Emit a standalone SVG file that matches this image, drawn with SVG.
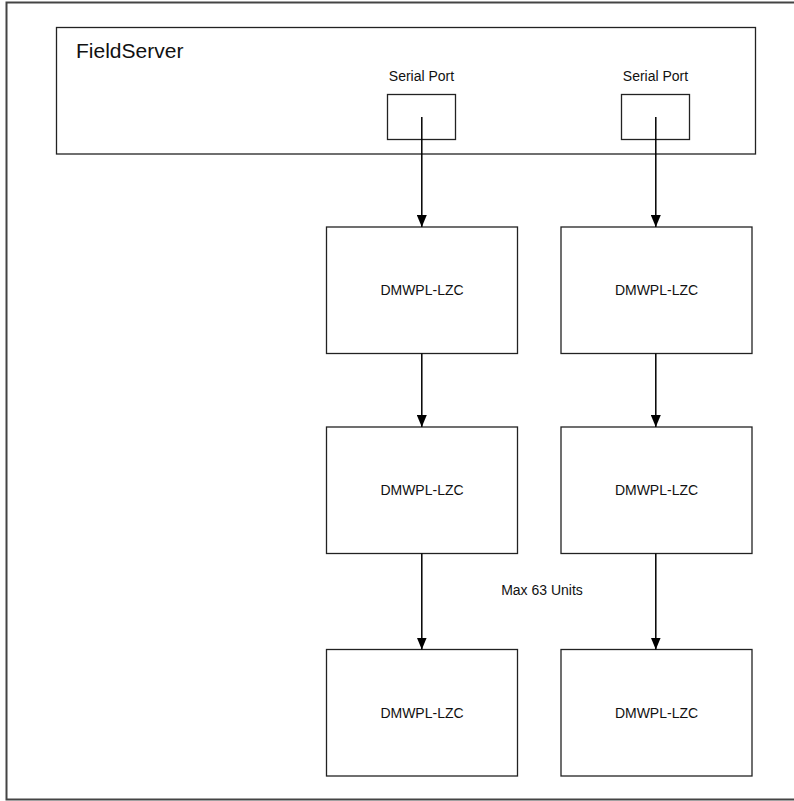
<svg xmlns="http://www.w3.org/2000/svg" width="794" height="801" viewBox="0 0 794 801">
<style>
.box{fill:#fff;stroke:#222;stroke-width:1.3}
.t{font-family:"Liberation Sans",Arial,sans-serif;font-size:14px;fill:#111;text-anchor:middle}
.c{stroke:#000;stroke-width:1.5;fill:none;marker-end:url(#ah)}
</style>
<defs>
<marker id="ah" viewBox="0 0 12 10" refX="12" refY="5" markerWidth="12" markerHeight="10" markerUnits="userSpaceOnUse" orient="auto">
<path d="M0,0 L12,5 L0,10 Z" fill="#000"/>
</marker>
</defs>
<rect x="0" y="0" width="794" height="801" fill="#fff"/>
<path d="M794,2.5 H6.5 V799.5 H794" fill="none" stroke="#444" stroke-width="2"/>
<g id="fieldserver">
<rect class="box" x="56.5" y="27.5" width="699" height="126.5"/>
<text x="76" y="58" font-family="Liberation Sans,Arial,sans-serif" font-size="21" fill="#111">FieldServer</text>
</g>
<g id="port1">
<rect class="box" x="387.5" y="94.5" width="68" height="45"/>
<text class="t" x="421.5" y="80.5">Serial Port</text>
</g>
<g id="port2">
<rect class="box" x="621.5" y="94.5" width="68" height="45"/>
<text class="t" x="655.5" y="80.5">Serial Port</text>
</g>
<g id="d11"><rect class="box" x="326.5" y="227" width="191" height="126.5"/><text class="t" x="422" y="295">DMWPL-LZC</text></g>
<g id="d12"><rect class="box" x="561" y="227" width="191" height="126.5"/><text class="t" x="656.5" y="295">DMWPL-LZC</text></g>
<g id="d21"><rect class="box" x="326.5" y="427" width="191" height="126.5"/><text class="t" x="422" y="495">DMWPL-LZC</text></g>
<g id="d22"><rect class="box" x="561" y="427" width="191" height="126.5"/><text class="t" x="656.5" y="495">DMWPL-LZC</text></g>
<g id="d31"><rect class="box" x="326.5" y="649.5" width="191" height="126.5"/><text class="t" x="422" y="718">DMWPL-LZC</text></g>
<g id="d32"><rect class="box" x="561" y="649.5" width="191" height="126.5"/><text class="t" x="656.5" y="718">DMWPL-LZC</text></g>
<g id="label"><text class="t" x="542" y="595">Max 63 Units</text></g>
<g id="connectors">
<path class="c" d="M421.8,117 V227"/>
<path class="c" d="M655.8,117 V227"/>
<path class="c" d="M421.8,353.5 V427"/>
<path class="c" d="M655.8,353.5 V427"/>
<path class="c" d="M421.8,553.5 V649.5"/>
<path class="c" d="M655.8,553.5 V649.5"/>
</g>
</svg>
